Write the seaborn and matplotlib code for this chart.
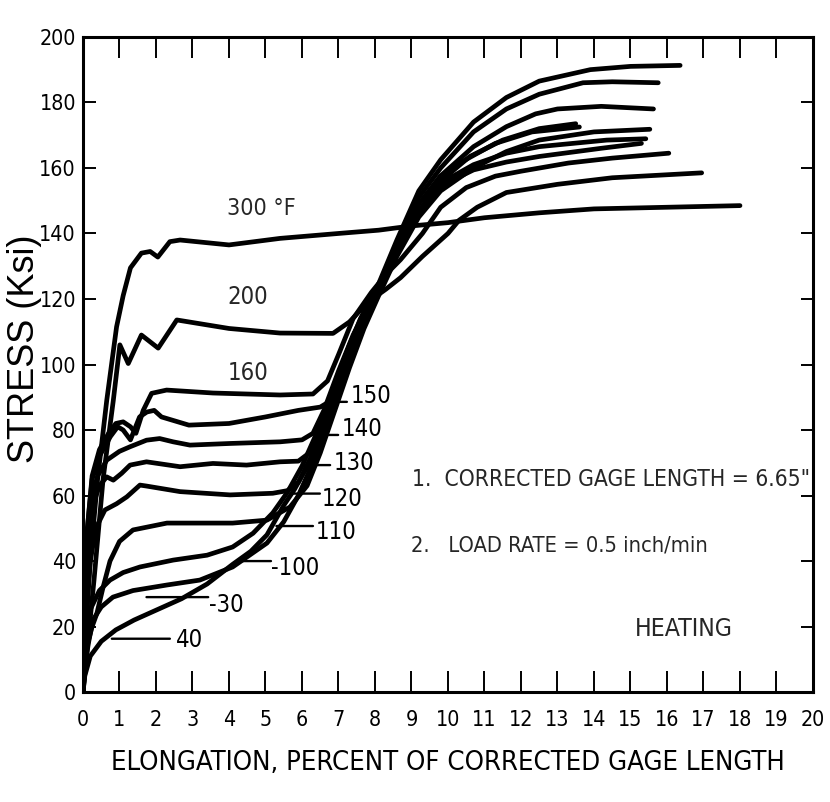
import os
import matplotlib
matplotlib.use("Agg")
import matplotlib.pyplot as plt
import seaborn as sns
import pandas as pd
from matplotlib import font_manager as fm
from matplotlib.textpath import TextPath

# ---- stress-strain curves: elongation (%) vs stress (ksi) per test temperature ----
elong_300 = [0, 0.15, 0.4, 0.65, 0.92, 1.1, 1.3, 1.6, 1.84, 2.05, 2.38, 2.66, 4.0, 5.4, 7.0, 8.1, 9.0, 10.0, 11.0, 12.5, 14.0, 16.0, 18.0]
stress_300 = [0, 34, 65, 89, 111.5, 121, 129.5, 134, 134.5, 132.8, 137.5, 138, 136.5, 138.5, 140, 141, 142.3, 143.3, 144.8, 146.3, 147.5, 148, 148.5]

elong_200 = [0, 0.3, 0.55, 0.83, 1.01, 1.24, 1.6, 2.06, 2.57, 4.0, 5.4, 6.85, 7.3, 7.8, 8.3, 8.7, 9.3, 10.0, 10.3, 10.8, 11.6, 13.0, 14.5, 16.95]
stress_200 = [0, 34, 65, 89, 106, 100.3, 109, 105, 113.6, 111, 109.6, 109.5, 113, 119, 123, 126.5, 133, 140, 144, 148, 152.5, 155, 157, 158.5]

elong_160 = [0, 0.05, 0.12, 0.25, 0.45, 0.7, 0.9, 1.1, 1.3, 1.45, 1.65, 1.88, 2.29, 3.56, 5.4, 6.3, 6.7, 7.0, 7.4, 7.9, 8.3, 8.7, 9.3, 9.8, 10.5, 11.3, 12.0, 13.3, 14.5, 16.05]
stress_160 = [0, 25, 50, 66, 74, 79, 82, 82.5, 81, 79, 86, 91.2, 92.2, 91.3, 90.7, 91, 95, 103, 114, 122, 127.5, 132, 140, 148, 154, 157.5, 159, 161.5, 163, 164.5]

elong_150 = [0, 0.05, 0.12, 0.25, 0.45, 0.75, 0.95, 1.1, 1.3, 1.55, 1.75, 1.95, 2.15, 2.9, 4.0, 5.0, 5.9, 6.5, 6.8, 7.1, 7.5, 8.0, 8.5, 9.1, 9.7, 10.4, 11.3, 12.3, 13.6]
stress_150 = [0, 25, 50, 65, 72, 78, 81, 80, 77, 84, 85.5, 86, 84, 81.5, 82, 84, 86, 87, 89, 98, 109, 120, 132, 145, 155, 162, 167.5, 171, 172.5]

elong_140 = [0, 0.06, 0.14, 0.25, 0.4, 0.65, 1.0, 1.29, 1.74, 2.1, 2.47, 2.93, 4.03, 5.4, 6.0, 6.3, 6.6, 7.0, 7.4, 7.9, 8.4, 9.0, 9.7, 10.7, 11.6, 12.5, 14.2, 15.3]
stress_140 = [0, 25, 48, 60, 66, 70.8, 73.5, 74.9, 76.9, 77.4, 76.4, 75.4, 75.9, 76.4, 77, 79, 86, 98, 109, 120, 131, 143, 154, 159.4, 161.8, 163.5, 166, 167.5]

elong_130 = [0, 0.07, 0.15, 0.3, 0.45, 0.65, 0.83, 1.06, 1.29, 1.74, 2.66, 3.56, 4.48, 5.4, 5.9, 6.2, 6.5, 6.9, 7.3, 7.7, 8.2, 8.7, 9.3, 9.9, 10.7, 11.6, 12.5, 14.35, 15.42]
stress_130 = [0, 25, 45, 58, 63, 65.7, 64.7, 66.8, 69.3, 70.3, 68.8, 69.8, 69.3, 70.3, 70.5, 73, 81, 93, 106, 116, 126, 137, 148, 156, 161, 164.5, 166.5, 168.5, 168.9]

elong_120 = [0, 0.08, 0.2, 0.35, 0.6, 0.92, 1.2, 1.56, 1.74, 2.66, 4.03, 5.2, 5.6, 5.9, 6.3, 6.7, 7.1, 7.5, 8.0, 8.5, 9.1, 9.8, 10.6, 11.5, 12.5, 13.5]
stress_120 = [0, 20, 40, 50, 55.6, 57.5, 59.6, 63.2, 62.9, 61.2, 60.2, 60.7, 61.5, 64, 73, 85, 98, 110, 121, 132, 145, 156, 163.5, 168.5, 172, 173.5]

elong_110 = [0, 0.1, 0.25, 0.38, 0.55, 0.74, 1.0, 1.37, 2.3, 3.2, 4.1, 5.04, 5.67, 6.14, 6.5, 6.9, 7.3, 7.7, 8.1, 8.6, 9.2, 9.8, 10.7, 11.6, 12.5, 14.0, 15.53]
stress_110 = [0, 13.7, 20, 24, 32, 40, 46, 49.5, 51.6, 51.6, 51.6, 52.5, 56.5, 63, 73, 86, 99, 111, 121, 133, 145, 153, 160, 165, 168.5, 171, 171.8]

elong_m100 = [0, 0.05, 0.19, 0.45, 0.74, 1.1, 1.56, 2.47, 3.4, 4.1, 4.66, 5.2, 5.6, 6.0, 6.4, 6.8, 7.2, 7.6, 8.1, 8.6, 9.2, 9.78, 10.7, 11.6, 12.4, 13.0, 14.2, 15.63]
stress_m100 = [0, 10, 25, 31, 34.2, 36.5, 38.2, 40.3, 41.8, 44.3, 48.5, 54.7, 61, 69, 79, 91, 103, 114, 124, 136, 149, 157.4, 166.5, 172.6, 176.5, 178, 178.8, 178]

elong_m30 = [0, 0.05, 0.15, 0.27, 0.5, 0.82, 1.37, 2.3, 3.2, 4.1, 5.04, 5.5, 5.9, 6.3, 6.8, 7.2, 7.6, 8.0, 8.6, 9.2, 9.8, 10.7, 11.6, 12.5, 13.7, 14.5, 15.76]
stress_m30 = [0, 8, 15, 22, 26, 29, 31, 32.7, 34.2, 38.2, 45.5, 52, 60, 70, 85, 98, 111, 121, 137, 151, 160, 171, 178, 182.5, 186, 186.3, 186]

elong_40 = [0, 0.05, 0.2, 0.5, 0.9, 1.4, 2.0, 2.7, 3.4, 4.1, 4.6, 5.04, 5.5, 5.8, 6.1, 6.4, 6.85, 7.2, 7.6, 8.0, 8.6, 9.2, 9.8, 10.7, 11.6, 12.5, 13.9, 15.0, 16.36]
stress_40 = [0, 5, 11, 15.5, 19, 22, 25, 28.5, 33, 39, 43, 48, 57, 62, 68, 75, 88, 100, 112, 122, 138, 153, 162.5, 174, 181.5, 186.5, 190, 191, 191.3]

curve_names = ["300", "200", "160", "150", "140", "130", "120", "110", "-100", "-30", "40"]
curve_elong = [elong_300, elong_200, elong_160, elong_150, elong_140, elong_130,
               elong_120, elong_110, elong_m100, elong_m30, elong_40]
curve_stress = [stress_300, stress_200, stress_160, stress_150, stress_140, stress_130,
                stress_120, stress_110, stress_m100, stress_m30, stress_40]

x_ticks = list(range(0, 21))
y_ticks = list(range(0, 201, 20))

notes = ['1.  CORRECTED GAGE LENGTH = 6.65"', "2.   LOAD RATE = 0.5 inch/min"]
mode_label = "HEATING"
x_title = "ELONGATION, PERCENT OF CORRECTED GAGE LENGTH"
y_title = "STRESS (Ksi)"


# ---- fonts: a narrow face for numbers and notes, a regular one for the y title ----
def find_narrow():
    best, best_score = None, None
    for f in fm.fontManager.ttflist:
        base = os.path.basename(f.fname).lower()
        name = f.name.lower()
        stretch = str(f.stretch).lower()
        is_narrow = ("narrow" in name or "condensed" in name or "narrow" in base
                     or "condensed" in base or stretch in ("condensed", "extra-condensed",
                                                          "semi-condensed"))
        if not is_narrow or f.style != "normal":
            continue
        if "bold" in base or "light" in base or "thin" in base or "black" in base or "italic" in base:
            continue
        score = 0
        if "liberation" in name:
            score -= 30
        if "extra" in base or "ultra" in base:
            score += 5
        if "semi" in base or "semi" in stretch:
            score += 3
        if best_score is None or score < best_score:
            best, best_score = f.fname, score
    return best


def regular_path(*names):
    for n in names:
        try:
            return fm.findfont(fm.FontProperties(family=n), fallback_to_default=False)
        except Exception:
            continue
    return fm.findfont(fm.FontProperties(family="DejaVu Sans"))


narrow_path = find_narrow() or regular_path("Liberation Sans", "DejaVu Sans")
wide_path = regular_path("Liberation Sans", "DejaVu Sans")


def fitted(text, path, target_px, max_pt):
    """Font properties sized so the text spans about target_px pixels."""
    tp = TextPath((0, 0), text, size=10, prop=fm.FontProperties(fname=path))
    w = tp.get_extents().width / 10.0 * 100 / 72
    return fm.FontProperties(fname=path, size=min(target_px / w, max_pt))


sns.set_theme(style="white")
plt.rcParams["font.family"] = ["Liberation Sans", "DejaVu Sans"]

frames = []
for name, xs, ys in zip(curve_names, curve_elong, curve_stress):
    frames.append(pd.DataFrame({"elongation": xs, "stress": ys, "curve": name}))
df = pd.concat(frames, ignore_index=True)

fig = plt.figure(figsize=(8.30, 8.02), dpi=100)
ax = fig.add_axes([0.100, 0.137, 0.8795, 0.817])

sns.lineplot(data=df, x="elongation", y="stress", units="curve", estimator=None,
             sort=False, color="black", linewidth=3.4, legend=False, ax=ax)

ax.set_xlim(0, 20)
ax.set_ylim(0, 200)
ax.set_xticks(x_ticks)
ax.set_yticks(y_ticks)
ax.set_xticklabels([str(v) for v in x_ticks])
ax.set_yticklabels([str(v) for v in y_ticks])

for side in ["left", "right", "top", "bottom"]:
    ax.spines[side].set_visible(True)
    ax.spines[side].set_color("black")
    ax.spines[side].set_linewidth(2.2)

ax.tick_params(axis="x", which="major", direction="in", length=15, width=1.4,
               top=True, bottom=True, pad=13, colors="black")
ax.tick_params(axis="y", which="major", direction="in", length=9, width=1.4,
               left=True, right=True, pad=5, colors="black")

tick_fp = fitted("200", narrow_path, 34, 21)
for lab in ax.get_xticklabels() + ax.get_yticklabels():
    lab.set_fontproperties(tick_fp)
    lab.set_color("black")

ax.set_xlabel(x_title, fontproperties=fitted(x_title, narrow_path, 672, 27),
              labelpad=14, color="black")
ax.set_ylabel("")
fig.text(0.029, 0.565, y_title, rotation=90, ha="center", va="center",
         fontproperties=fitted(y_title, wide_path, 255, 26), color="black")

# curve labels with leader lines
num_fp = fitted("150", narrow_path, 37, 28)
leader = dict(arrowstyle="-", color="black", lw=1.7, shrinkA=0, shrinkB=0)
leaders = [
    ("150", (6.81, 88.6), (7.23, 88.6), (7.33, 90.5)),
    ("140", (6.45, 78.5), (6.99, 78.5), (7.08, 80.3)),
    ("130", (6.08, 69.3), (6.77, 69.3), (6.86, 70.0)),
    ("120", (5.72, 60.6), (6.49, 60.6), (6.54, 59.0)),
    ("110", (5.30, 50.7), (6.30, 50.7), (6.38, 49.0)),
    ("-100", (4.30, 40.0), (5.15, 40.0), (5.16, 37.9)),
    ("-30", (1.74, 29.0), (3.43, 29.0), (3.44, 26.6)),
    ("40", (0.79, 16.3), (2.38, 16.3), (2.54, 15.9)),
]
for text, p0, p1, tpos in leaders:
    ax.annotate("", xy=p0, xytext=p1, arrowprops=leader)
    ax.text(tpos[0], tpos[1], text, fontproperties=num_fp, color="black",
            ha="left", va="center")

ax.text(4.52, 120.6, "200", fontproperties=num_fp, ha="center", va="center")
ax.text(4.52, 97.4, "160", fontproperties=num_fp, ha="center", va="center")
ax.text(4.88, 147.5, "300 °F", fontproperties=fitted("300 °F", narrow_path, 66, 28),
        ha="center", va="center")

ax.text(9.02, 65.0, notes[0], fontproperties=fitted(notes[0], narrow_path, 395, 27),
        ha="left", va="center")
ax.text(9.00, 44.9, notes[1], fontproperties=fitted(notes[1], narrow_path, 293, 27),
        ha="left", va="center")
ax.text(16.47, 19.2, mode_label, fontproperties=fitted(mode_label, narrow_path, 94, 27),
        ha="center", va="center")

fig.savefig("out.png", dpi=100, facecolor="white")
